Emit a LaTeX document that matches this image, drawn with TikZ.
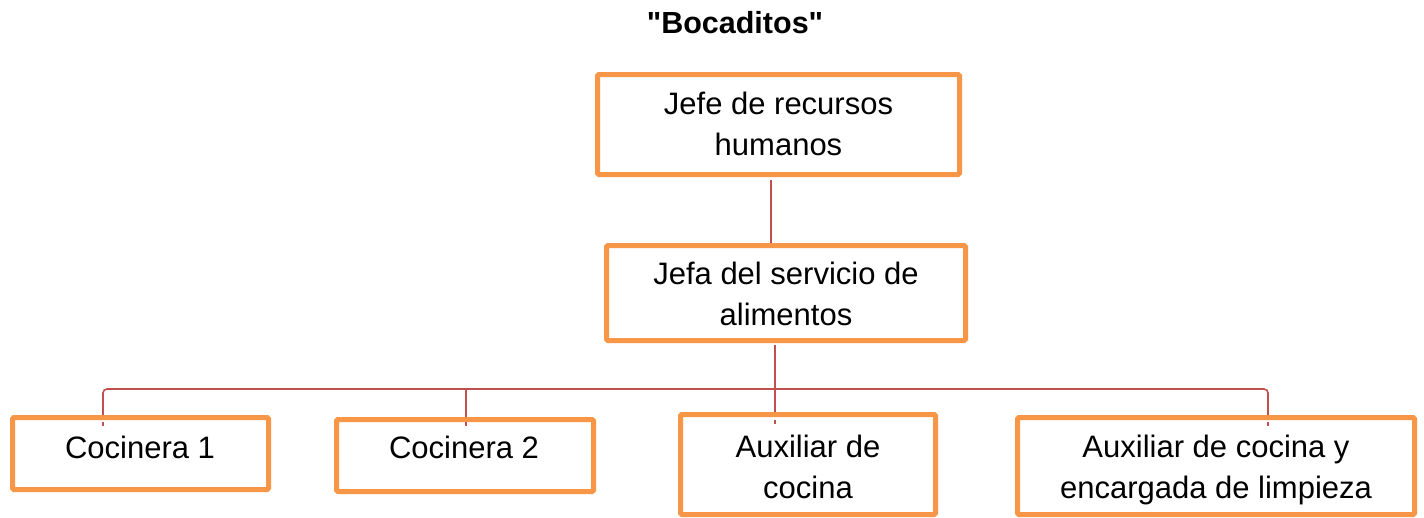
\documentclass[tikz,border=0pt]{standalone}
\usepackage{fontspec}
\setmainfont{Liberation Sans}
\newfontfamily\titlefont{Liberation Sans}[Ligatures=ResetAll]
\definecolor{boxorange}{HTML}{F79646}
\definecolor{linered}{HTML}{C0504D}
\begin{document}
\begin{tikzpicture}[x=1pt,y=-1pt,
  box/.style={draw=boxorange, line width=5pt, rounded corners=1.5pt, fill=white, inner sep=0pt},
  txt/.style={align=center, font=\fontsize{31}{40.5}\selectfont, inner sep=0pt, anchor=base},
  conn/.style={draw=linered, line width=1.6pt}]
\useasboundingbox (0,0) rectangle (1424,517);
\clip (0,0) rectangle (1424,517);
\fill[white] (0,0) rectangle (1424,517);
\node[font=\titlefont\fontsize{30.5}{36}\selectfont\bfseries, anchor=base] (title) at (735,33) {"Bocaditos"};
% connectors
\coordinate (t1) at (771,180);
\coordinate (t2) at (771,245);
\coordinate (m1) at (775,345);
\coordinate (d1) at (103,422);
\coordinate (d2) at (466,422);
\coordinate (d3) at (775,420);
\coordinate (d4) at (1268,422);
\coordinate (h1) at (103,389);
\coordinate (h4) at (1268,389);
\draw[conn] (t1) -- (t2);
\draw[conn] (m1) -- (d3);
\draw[conn, rounded corners=4pt] (d1) -- (h1) -- (h4) -- (d4);
\draw[conn] (d2) -- (d2 |- h1);
% boxes
\node[box, minimum width=362pt, minimum height=100pt] (top) at (778.5,124.5) {};
\node[txt] at (778.5,155) {Jefe de recursos\\humanos};
\node[box, minimum width=359pt, minimum height=95pt] (mid) at (786,293) {};
\node[txt] at (786,325) {Jefa del servicio de\\alimentos};
\node[box, minimum width=256pt, minimum height=72pt] (c1) at (140.5,453.5) {};
\node[txt] at (140,458) {Cocinera 1};
\node[box, minimum width=257pt, minimum height=72pt] (c2) at (465,455.5) {};
\node[txt] at (464,458) {Cocinera 2};
\node[box, minimum width=255pt, minimum height=100pt] (aux) at (808,464.5) {};
\node[txt] at (808,498) {Auxiliar de\\cocina};
\node[box, minimum width=397pt, minimum height=97pt] (last) at (1216,466) {};
\node[txt] at (1216,498) {Auxiliar de cocina y\\encargada de limpieza};
\draw[conn] (d1) -- ([yshift=-4pt]d1);
\draw[conn] (d2) -- ([yshift=-4pt]d2);
\draw[conn] (d3) -- ([yshift=-4pt]d3);
\draw[conn] (d4) -- ([yshift=-4pt]d4);
\end{tikzpicture}
\end{document}
